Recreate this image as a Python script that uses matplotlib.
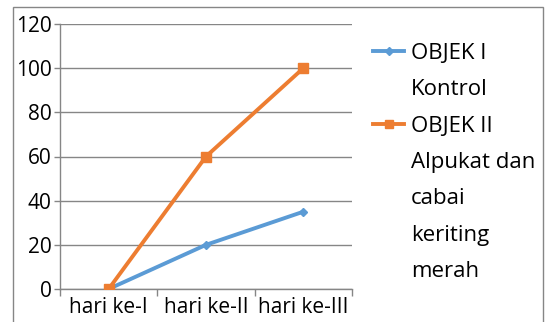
import matplotlib
matplotlib.use("Agg")
import matplotlib.pyplot as plt
from matplotlib.lines import Line2D
from matplotlib.patches import Rectangle

categories = ["hari ke-I", "hari ke-II", "hari ke-III"]
objek1 = [0, 20, 35]
objek2 = [0, 60, 100]
legend_lines = ["OBJEK I", "Kontrol", "OBJEK II", "Alpukat dan", "cabai", "keriting", "merah"]
yticks = [0, 20, 40, 60, 80, 100, 120]

plt.rcParams['font.family'] = ['Open Sans', 'DejaVu Sans']

W, H = 547, 322
fig = plt.figure(figsize=(W / 100, H / 100), dpi=100)
ax = fig.add_axes([60 / W, 1 - 289 / H, (352 - 60) / W, (289 - 24) / H])

blue = "#5B9BD5"
orange = "#ED7D31"
x = range(len(categories))
l1, = ax.plot(x, objek1, color=blue, lw=2.8, marker="D", ms=4.5, zorder=3)
l2, = ax.plot(x, objek2, color=orange, lw=2.8, marker="s", ms=6.5, zorder=3)

ax.set_xlim(-0.5, 2.5)
ax.set_ylim(0, 120)
ax.set_yticks(yticks)
ax.set_yticklabels([str(v) for v in yticks], fontsize=15)
ax.set_xticks([-0.5, 0.5, 1.5, 2.5], minor=False)
ax.set_xticklabels([])
ax.set_xticks(list(x), minor=True)
ax.set_xticklabels(categories, minor=True, fontsize=15)
ax.tick_params(axis="x", which="minor", length=0, pad=5.5)
ax.tick_params(axis="x", which="major", length=5, color="#868686", width=1)
ax.tick_params(axis="y", length=4, color="#868686", width=1, pad=2)
ax.yaxis.grid(True, color="#868686", lw=1)
ax.set_axisbelow(True)
for s in ["top", "right"]:
    ax.spines[s].set_visible(False)
for s in ["left", "bottom"]:
    ax.spines[s].set_color("#868686")
    ax.spines[s].set_linewidth(1)

blank = Line2D([], [], linestyle="none")
handles = [l1, blank, l2, blank, blank, blank, blank]
fig.legend(handles, legend_lines, loc="upper left",
           bbox_to_anchor=(373 / W, 1 - 43 / H), frameon=False,
           fontsize=16, handlelength=1.4, handletextpad=0.3,
           labelspacing=0.69, borderpad=0, borderaxespad=0, markerscale=0.8)

fig.patches.append(Rectangle((13 / W, -0.05), (543 - 13) / W, 1.05 - 7 / H + 0.0,
                             transform=fig.transFigure, fill=False,
                             edgecolor="#868686", lw=1))

fig.savefig("out.png", dpi=100)
